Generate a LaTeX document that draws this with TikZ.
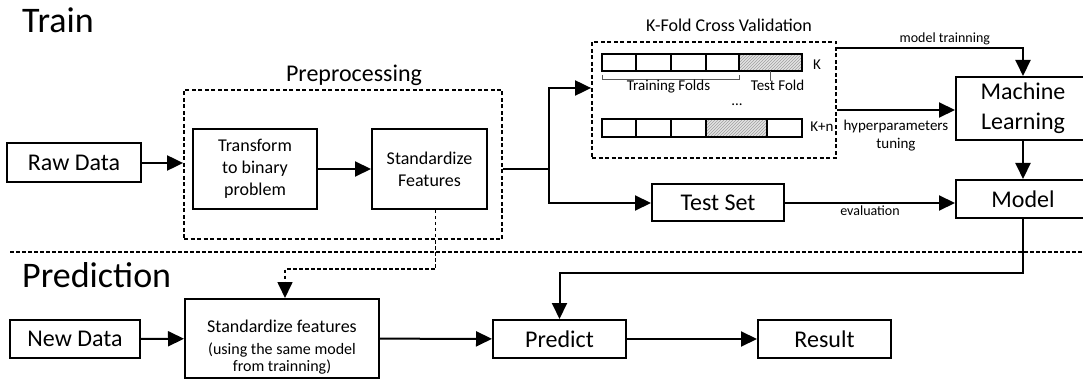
\documentclass[tikz,border=0pt]{standalone}
\usepackage{fontspec}
\setmainfont{Carlito}
\usetikzlibrary{arrows.meta,patterns}
\begin{document}
\begin{tikzpicture}[x=1pt,y=-1pt,
  box/.style={draw, line width=2pt, inner sep=0pt, align=center},
  arr/.style={line width=2pt, -{Triangle[length=16pt,width=15pt]}},
  wire/.style={line width=2pt},
  dbox/.style={draw, line width=1.8pt, dash pattern=on 4pt off 2.5pt, inner sep=0pt},
  dline/.style={line width=1.7pt, dash pattern=on 3.5pt off 2.5pt},
  cell/.style={line width=1.8pt},
  hatch/.style={pattern=north east lines, pattern color=gray!75},
  brk/.style={line width=0.9pt, gray!70!black},
  fXL/.style={font=\fontsize{36}{40}\selectfont},
  fL/.style={font=\fontsize{24}{30}\selectfont},
  fM/.style={font=\fontsize{18}{22}\selectfont},
  fS/.style={font=\fontsize{15}{18}\selectfont},
  fXS/.style={font=\fontsize{14}{17}\selectfont},
]
\fill[white] (0,0) rectangle (1083,379);
\clip (0,0) rectangle (1083,379);

% section titles
\node[fXL, anchor=base west, inner sep=0pt] (train) at (22,33) {Train};
\node[fXL, anchor=base west, inner sep=0pt] (pred) at (22,287) {Prediction};

% ---------- training part ----------
\node[box, fL, minimum width=134, minimum height=39] (raw) at (74,163) {Raw Data};
\node[box, fM, minimum width=124, minimum height=80] (trans) at (255,169) {Transform\\to binary\\problem};
\node[box, fM, minimum width=115, minimum height=80] (stdF) at (429.5,169) {Standardize\\Features};
\node[dbox, minimum width=318, minimum height=149] (pre) at (343,164.5) {};
\node[fL, anchor=base] (preT) at (354,82) {Preprocessing};

\draw[arr] (raw) -- (pre.west |- raw);
\draw[arr] (trans) -- (stdF);

% cross validation block
\node[dbox, minimum width=244, minimum height=116] (kf) at (714,100) {};
\node[fM, anchor=base] (kfT) at (729,32) {K-Fold Cross Validation};

% fold bar K
\foreach \a/\b in {602/636,636/671,671/706,706/739}
  \draw[cell] (\a,54) rectangle (\b,71);
\fill[gray!22] (739,54) rectangle (802,71);
\fill[hatch] (739,54) rectangle (802,71);
\draw[cell] (739,54) rectangle (802,71);
% fold bar K+n
\foreach \a/\b in {602/636,636/671,671/706,767/802}
  \draw[cell] (\a,119) rectangle (\b,137);
\fill[gray!22] (706,119) rectangle (767,137);
\fill[hatch] (706,119) rectangle (767,137);
\draw[cell] (706,119) rectangle (767,137);

\draw[brk] (602,75) -- (602,79) -- (739,79) -- (739,75);
\draw[brk] (770,71) -- (770,81);
\node[fS, anchor=base] (trF) at (668.5,91) {Training Folds};
\node[fS, anchor=base] (teF) at (777.5,91) {Test Fold};
\node[fS] (kA) at (817,65) {K};
\node[fS] (kB) at (822,127) {K+n};
\node[fS, anchor=base] (dots) at (737,106) {...};

% split after preprocessing
\coordinate (split) at (549,169);
\draw[wire] (pre.east |- stdF) -- (split);
\draw[arr] (split) |- ([yshift=12pt]kf.west);

\node[box, fL, minimum width=132, minimum height=37] (test) at (718,203) {Test Set};
\draw[arr] (split) |- (test.west);

\node[box, fL, minimum width=134, minimum height=63] (ml) at (1023,108.5) {Machine\\Learning};
\node[box, fL, minimum width=134, minimum height=38] (model) at (1023,199) {Model};

\draw[arr] ([yshift=52pt]kf.east) -| (ml.north)
  node[pos=.29, anchor=base, yshift=5pt, fXS] {model trainning};
\coordinate (hyp) at ([yshift=-10pt]kf.east);
\draw[arr] (hyp) -- (ml.west |- hyp)
  node[midway, anchor=north, yshift=-6pt, fS, align=center] {hyperparameters\\tuning};
\draw[arr] (ml) -- (model);
\draw[arr] (test) -- (model.west |- test)
  node[midway, anchor=base, yshift=-12pt, fXS] {evaluation};

% separator between the two phases
\coordinate (sepL) at (10,252);
\coordinate (sepR) at (1083,252);
\draw[dline] (sepL) -- (sepR);

% ---------- prediction part ----------
\node[box, fL, minimum width=130, minimum height=38] (newd) at (75,339) {New Data};
\node[box, minimum width=194, minimum height=79] (stdP) at (282,338.5) {};
\node[align=center, anchor=north, inner sep=0pt, font=\fontsize{16}{17}\selectfont] (stdPt) at (282,320)
  {{\fontsize{18}{22}\selectfont Standardize features}\\[5pt](using the same model\\from trainning)};
\node[box, fL, minimum width=133, minimum height=38] (predict) at (559.5,339) {Predict};
\node[box, fL, minimum width=133, minimum height=38] (result) at (824.5,339) {Result};

\draw[arr] (newd) -- (stdP);
\draw[arr] (stdP) -- (predict);
\draw[arr] (predict) -- (result);

\coordinate (mp) at (0,273);
\draw[arr] (model.south) -- (model.south |- mp) -| (predict.north);

\coordinate (sp) at (0,269);
\draw[dline, -{Triangle[length=16pt,width=15pt]}]
  ([xshift=6pt]stdF.south) coordinate (sq) -- (sq |- sp) -| ([xshift=3pt]stdP.north);
\end{tikzpicture}
\end{document}
